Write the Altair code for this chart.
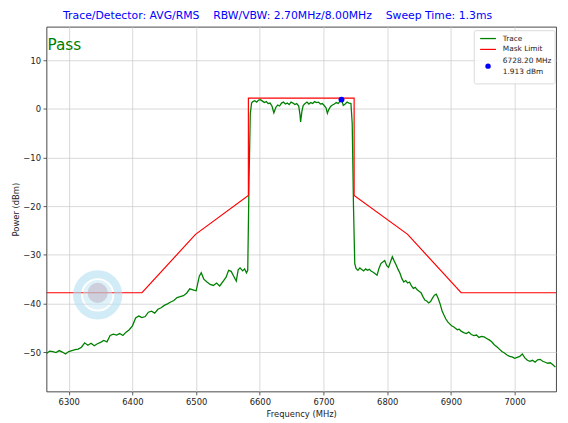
import altair as alt
import pandas as pd

# ---------------- data ----------------
# lower skirt of the trace
low_freq = [6265, 6270, 6275, 6280, 6285, 6290, 6295, 6300, 6305, 6310, 6315, 6320,
            6325, 6330, 6335, 6340, 6345, 6350, 6355, 6360, 6365, 6370, 6375, 6380,
            6385, 6390, 6395, 6400, 6405, 6410, 6415, 6420, 6425, 6430, 6435, 6440,
            6445, 6450, 6455, 6460, 6465, 6470, 6475, 6480, 6485, 6490, 6495, 6500,
            6505, 6508, 6512, 6517, 6522, 6527, 6532, 6537, 6542, 6547, 6551, 6555,
            6559, 6563, 6566, 6569, 6573, 6576, 6579, 6581]
low_dbm = [-50.3, -49.8, -49.9, -50.1, -49.7, -50.0, -50.4, -49.9, -49.7, -49.5, -49.4, -49.0,
           -48.1, -48.6, -48.2, -48.7, -48.3, -48.0, -47.6, -47.9, -46.6, -46.3, -46.5, -46.2,
           -46.6, -45.9, -45.4, -44.6, -43.0, -42.6, -42.9, -42.7, -41.8, -41.6, -42.0, -41.2,
           -40.9, -40.4, -40.1, -39.7, -39.4, -38.8, -38.6, -38.4, -37.9, -37.0, -37.2, -37.4,
           -34.4, -33.7, -35.0, -35.6, -36.1, -36.3, -35.8, -36.4, -35.5, -34.6, -33.2, -33.4,
           -34.4, -35.4, -33.1, -32.7, -33.3, -32.9, -33.7, -33.2]

# in-band part of the trace
band_freq = [6583, 6585, 6587, 6589, 6592, 6595, 6598, 6601, 6604, 6607, 6610, 6613,
             6616, 6619, 6622, 6625, 6628, 6631, 6634, 6637, 6640, 6643, 6646, 6649,
             6652, 6655, 6658, 6661, 6663, 6664, 6666, 6668, 6671, 6674, 6677, 6680,
             6683, 6686, 6689, 6692, 6695, 6698, 6701, 6704, 6706, 6708, 6711, 6714,
             6717, 6720, 6723, 6726, 6728.2, 6731, 6734, 6737, 6740, 6743, 6745, 6747]
band_dbm = [-15.0, -1.0, 1.2, 1.5, 1.7, 1.4, 1.8, 1.9, 1.6, 1.3, 1.5, 1.1,
            1.2, 0.6, -0.8, 0.3, 0.8, 0.6, 1.2, 1.4, 1.0, 1.2, 0.9, 1.4,
            1.2, 0.9, 1.1, 0.6, -1.2, -2.7, -0.5, 0.7, 1.1, 1.4, 1.0, 1.3,
            1.1, 1.5, 1.3, 1.4, 1.0, 1.1, 0.7, 0.2, -0.9, -0.2, 0.5, 0.8,
            1.0, 1.3, 1.1, 1.6, 1.913, 0.7, 1.0, 1.4, 1.2, 1.1, -3.0, -20.0]

# upper skirt of the trace
high_freq = [6749, 6751, 6754, 6757, 6760, 6763, 6766, 6769, 6772, 6775, 6778, 6781,
             6784, 6787, 6790, 6793, 6796, 6799, 6802, 6805, 6808, 6811, 6814, 6817,
             6820, 6823, 6826, 6829, 6832, 6835, 6838, 6841, 6844, 6847, 6850, 6853,
             6856, 6859, 6862, 6865, 6868, 6871, 6874, 6877, 6880, 6883, 6886, 6889,
             6892, 6895, 6898, 6901, 6904, 6907, 6910, 6913, 6916, 6920, 6924, 6928,
             6932, 6936, 6940, 6944, 6948, 6952, 6956, 6960, 6964, 6968, 6972, 6976,
             6980, 6984, 6988, 6992, 6996, 7000, 7004, 7008, 7012, 7016, 7020, 7024,
             7028, 7032, 7036, 7040, 7044, 7048, 7052, 7056, 7060, 7064]
high_dbm = [-31.8, -32.8, -33.2, -32.7, -33.0, -33.3, -32.9, -33.2, -33.0, -33.4, -33.6, -33.9,
            -34.2, -32.8, -31.8, -31.5, -31.2, -32.2, -32.6, -31.5, -30.4, -31.3, -32.1, -33.0,
            -33.8, -34.9, -35.6, -35.3, -35.8, -35.6, -36.4, -36.9, -36.7, -37.2, -37.5, -37.8,
            -38.6, -39.3, -39.5, -39.9, -39.6, -38.9, -38.3, -38.1, -39.0, -40.1, -41.5, -42.4,
            -43.2, -43.8, -44.2, -44.6, -44.8, -45.1, -45.4, -45.3, -45.7, -46.0, -46.2, -45.9,
            -46.4, -46.6, -46.5, -47.0, -46.8, -46.9, -47.2, -47.5, -47.9, -48.5, -48.9, -49.4,
            -49.9, -50.2, -50.6, -50.9, -51.0, -51.3, -51.1, -50.9, -50.4, -51.2, -51.7, -51.9,
            -51.7, -52.1, -51.6, -51.5, -51.9, -52.1, -52.3, -52.2, -52.6, -53.1]

# spectrum emission mask
mask_freq = [6265, 6415, 6499, 6582, 6582, 6748, 6748, 6832, 6916, 7065]
mask_dbm = [-37.8, -37.8, -25.8, -17.8, 2.2, 2.2, -17.8, -25.8, -37.8, -37.8]

# peak marker
marker_freq = [6728.2]
marker_dbm = [1.913]

x_ticks = [6300, 6400, 6500, 6600, 6700, 6800, 6900, 7000]
y_ticks = [-50, -40, -30, -20, -10, 0, 10]
x_domain = [6265, 7065]
y_domain = [-58.1, 16.9]

GAP = "\u00a0\u00a0\u00a0\u00a0"
title_parts = ["Trace/Detector: AVG/RMS", "RBW/VBW: 2.70MHz/8.00MHz", "Sweep Time: 1.3ms"]
title_text = GAP.join(title_parts)
legend_labels = ["Trace", "Mask Limit", "6728.20 MHz", "1.913 dBm"]
status_text = "Pass"

# ---------------- chart ----------------
FONT = "DejaVu Sans"
W, H = 517, 370

trace_df = pd.DataFrame({"freq": low_freq + band_freq + high_freq,
                         "dbm": low_dbm + band_dbm + high_dbm})
trace_df["order"] = range(len(trace_df))
mask_df = pd.DataFrame({"freq": mask_freq, "dbm": mask_dbm})
mask_df["order"] = range(len(mask_df))
marker_df = pd.DataFrame({"freq": marker_freq, "dbm": marker_dbm})
one = pd.DataFrame({"k": [0]})

xs = alt.Scale(domain=x_domain, nice=False, zero=False)
ys = alt.Scale(domain=y_domain, nice=False, zero=False)
x_axis = alt.Axis(values=x_ticks, title="Frequency (MHz)", format="d")
y_axis = alt.Axis(values=y_ticks, title="Power (dBm)")

trace = alt.Chart(trace_df).mark_line(color="green", strokeWidth=1.3, clip=True).encode(
    x=alt.X("freq:Q", scale=xs, axis=x_axis),
    y=alt.Y("dbm:Q", scale=ys, axis=y_axis),
    order="order:Q",
)
mask = alt.Chart(mask_df).mark_line(color="red", strokeWidth=1.2, clip=True).encode(
    x=alt.X("freq:Q", scale=xs),
    y=alt.Y("dbm:Q", scale=ys),
    order="order:Q",
)
marker = alt.Chart(marker_df).mark_point(filled=True, color="blue", size=36, opacity=1, shape="circle").encode(
    x=alt.X("freq:Q", scale=xs),
    y=alt.Y("dbm:Q", scale=ys),
)

# watermark logo (decoration, drawn on top, semi-transparent)
WX, WY = 52, 272
wm_outer = alt.Chart(one).mark_point(shape="circle", filled=False, stroke="#b5e0f3",
                                     strokeWidth=8, size=1750, opacity=0.6).encode(
    x=alt.value(WX), y=alt.value(WY))
wm_inner = alt.Chart(one).mark_point(shape="circle", filled=True, color="#c4e5f4",
                                     size=900, opacity=0.55).encode(
    x=alt.value(WX), y=alt.value(WY))
wm_core = alt.Chart(one).mark_point(shape="circle", filled=True, color="#b8a9b8",
                                    size=420, opacity=0.45).encode(
    x=alt.value(WX), y=alt.value(WY - 2))

pass_text = alt.Chart(one).mark_text(text=status_text, font=FONT, fontSize=15.5, color="green",
                                     align="left", baseline="alphabetic").encode(
    x=alt.value(1), y=alt.value(24))

# legend box (decoration)
lx0, ly0 = 434, 4
leg_box = alt.Chart(one).mark_rect(fill="white", fillOpacity=0.8, stroke="#d0d0d0",
                                   strokeWidth=0.8, cornerRadius=2).encode(
    x=alt.value(lx0), x2=alt.value(lx0 + 82), y=alt.value(ly0), y2=alt.value(ly0 + 54))
leg_l1 = alt.Chart(one).mark_rule(color="green", strokeWidth=1.3).encode(
    x=alt.value(lx0 + 6), x2=alt.value(lx0 + 22), y=alt.value(ly0 + 8))
leg_l2 = alt.Chart(one).mark_rule(color="red", strokeWidth=1.2).encode(
    x=alt.value(lx0 + 6), x2=alt.value(lx0 + 22), y=alt.value(ly0 + 19))
leg_dot = alt.Chart(one).mark_point(filled=True, color="blue", size=30, opacity=1).encode(
    x=alt.value(lx0 + 14), y=alt.value(ly0 + 36))
leg_texts = []
for lab, yy in zip(legend_labels, [8, 19, 31, 42]):
    leg_texts.append(alt.Chart(one).mark_text(text=lab, font=FONT, fontSize=7.5, color="#222",
                                              align="left", baseline="middle").encode(
        x=alt.value(lx0 + 29), y=alt.value(ly0 + yy)))

chart = alt.layer(
    trace, mask, marker, wm_outer, wm_inner, wm_core, pass_text,
    leg_box, leg_l1, leg_l2, leg_dot, *leg_texts
).properties(
    width=W, height=H,
    title=alt.TitleParams(text=title_text, font=FONT, fontSize=11, fontWeight="normal",
                          color="blue", anchor="middle", dx=-24, offset=6),
    autosize=alt.AutoSizeParams(type="none"),
    padding={"left": 39, "top": 16, "right": 4, "bottom": 28},
).configure_view(
    stroke="#333", strokeWidth=0.9
).configure_axis(
    labelFont=FONT, titleFont=FONT, labelFontSize=8.5, titleFontSize=8.5,
    labelColor="#222", titleColor="#222", titleFontWeight="normal",
    tickColor="#333", tickSize=3.5, tickWidth=0.8, labelPadding=2.5,
    grid=True, gridColor="#cfcfcf", gridWidth=0.8, domain=False,
).configure_axisX(
    titlePadding=4,
).configure_axisY(
    titlePadding=2,
)

chart.save("out.html", embed_options={"renderer": "svg", "actions": False})
